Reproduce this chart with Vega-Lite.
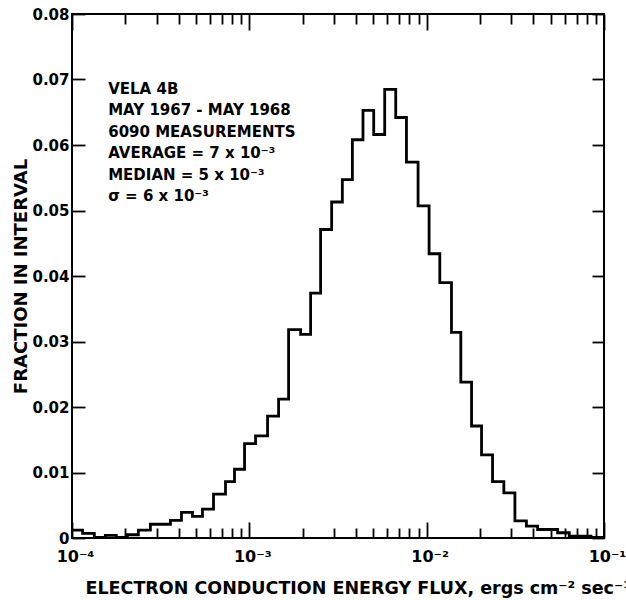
{
  "$schema": "https://vega.github.io/schema/vega-lite/v6.json",
  "width": 532,
  "height": 524,
  "autosize": {"type": "none"},
  "padding": {"left": 72, "top": 14, "right": 22, "bottom": 62},
  "background": "white",
  "config": {
    "view": {"stroke": "black", "strokeWidth": 2},
    "axis": {"domain": false, "grid": false, "tickColor": "black", "tickWidth": 1.8, "labelColor": "black", "titleColor": "black", "labelFont": "DejaVu Sans", "labelFontWeight": "bold", "titleFont": "DejaVu Sans", "titleFontWeight": "bold", "labelFlush": false, "labelOverlap": false}
  },
  "datasets": {
    "hist": [
      {"flux": 0.0001, "frac": 0.0012},
      {"flux": 0.0001148, "frac": 0.0007},
      {"flux": 0.0001336, "frac": 0.0001},
      {"flux": 0.0001542, "frac": 0.0004},
      {"flux": 0.0001778, "frac": 0.0001},
      {"flux": 0.0002052, "frac": 0.0005},
      {"flux": 0.0002368, "frac": 0.0012},
      {"flux": 0.0002767, "frac": 0.0021},
      {"flux": 0.0003152, "frac": 0.0021},
      {"flux": 0.0003591, "frac": 0.0027},
      {"flux": 0.0004142, "frac": 0.0039},
      {"flux": 0.0004779, "frac": 0.0033},
      {"flux": 0.0005441, "frac": 0.0044},
      {"flux": 0.0006281, "frac": 0.0067},
      {"flux": 0.0007339, "frac": 0.0086},
      {"flux": 0.0008249, "frac": 0.0105},
      {"flux": 0.0009396, "frac": 0.0144},
      {"flux": 0.001084, "frac": 0.0156},
      {"flux": 0.001267, "frac": 0.0186},
      {"flux": 0.001462, "frac": 0.0212},
      {"flux": 0.001665, "frac": 0.0318},
      {"flux": 0.001946, "frac": 0.0311},
      {"flux": 0.002216, "frac": 0.0374},
      {"flux": 0.002523, "frac": 0.0471},
      {"flux": 0.002912, "frac": 0.0513},
      {"flux": 0.003346, "frac": 0.0547},
      {"flux": 0.003811, "frac": 0.0608},
      {"flux": 0.004375, "frac": 0.0653},
      {"flux": 0.005028, "frac": 0.0616},
      {"flux": 0.005799, "frac": 0.0685},
      {"flux": 0.006692, "frac": 0.0642},
      {"flux": 0.007691, "frac": 0.0574},
      {"flux": 0.008944, "frac": 0.0507},
      {"flux": 0.01032, "frac": 0.0434},
      {"flux": 0.01186, "frac": 0.0390},
      {"flux": 0.01380, "frac": 0.0314},
      {"flux": 0.01558, "frac": 0.0238},
      {"flux": 0.01791, "frac": 0.0171},
      {"flux": 0.02039, "frac": 0.0127},
      {"flux": 0.02352, "frac": 0.0086},
      {"flux": 0.02724, "frac": 0.0069},
      {"flux": 0.03145, "frac": 0.0026},
      {"flux": 0.03651, "frac": 0.0018},
      {"flux": 0.04223, "frac": 0.0013},
      {"flux": 0.04830, "frac": 0.0013},
      {"flux": 0.05478, "frac": 0.0008},
      {"flux": 0.06370, "frac": 0.0003},
      {"flux": 0.07318, "frac": 0.0003},
      {"flux": 0.08446, "frac": 0.0001},
      {"flux": 0.1, "frac": 0.0001}
    ]
  },
  "resolve": {"axis": {"x": "independent", "y": "independent"}},
  "layer": [
    {
      "data": {"name": "hist"},
      "mark": {"type": "line", "interpolate": "step-after", "color": "black", "strokeWidth": 2.8, "strokeJoin": "miter"},
      "encoding": {
        "x": {
          "field": "flux", "type": "quantitative",
          "scale": {"type": "log", "domain": [0.0001, 0.1], "nice": false},
          "axis": {"orient": "bottom", "values": [0.0001, 0.001, 0.01, 0.1], "tickSize": -16, "labelPadding": 26, "labelBaseline": "top", "labelFontSize": 16, "labelOffset": 3,
            "labelExpr": "['10⁻⁴','10⁻³','10⁻²','10⁻¹'][round(log(datum.value)/LN10)+4]",
            "title": "ELECTRON CONDUCTION ENERGY FLUX, ergs cm⁻² sec⁻¹", "titleFontSize": 17.5, "titleAlign": "left", "titleAnchor": "start", "titleX": 13, "titleY": 55, "titleBaseline": "alphabetic"}
        },
        "y": {
          "field": "frac", "type": "quantitative",
          "scale": {"domain": [0, 0.08], "nice": false},
          "axis": {"orient": "left", "values": [0, 0.01, 0.02, 0.03, 0.04, 0.05, 0.06, 0.07, 0.08], "tickSize": -13, "labelPadding": 16, "labelFontSize": 15,
            "labelExpr": "datum.value == 0 ? '0' : format(datum.value, '.2f')",
            "title": "FRACTION IN INTERVAL", "titleFontSize": 18, "titleAngle": 270, "titleX": -46, "titleY": 262, "titleAlign": "center", "titleBaseline": "alphabetic"}
        }
      }
    },
    {
      "data": {"name": "hist"},
      "mark": {"type": "line", "opacity": 0},
      "encoding": {
        "x": {"field": "flux", "type": "quantitative", "scale": {"type": "log", "domain": [0.0001, 0.1], "nice": false},
          "axis": {"orient": "top", "values": [0.0001, 0.001, 0.01, 0.1], "tickSize": -16, "labels": false, "title": null}},
        "y": {"field": "frac", "type": "quantitative", "scale": {"domain": [0, 0.08], "nice": false},
          "axis": {"orient": "right", "values": [0, 0.01, 0.02, 0.03, 0.04, 0.05, 0.06, 0.07, 0.08], "tickSize": -12, "labels": false, "title": null}}
      }
    },
    {
      "data": {"name": "hist"},
      "mark": {"type": "line", "opacity": 0},
      "encoding": {
        "x": {"field": "flux", "type": "quantitative", "scale": {"type": "log", "domain": [0.0001, 0.1], "nice": false},
          "axis": {"orient": "bottom", "values": [0.0002, 0.0003, 0.0004, 0.0005, 0.0006, 0.0007, 0.0008, 0.0009, 0.002, 0.003, 0.004, 0.005, 0.006, 0.007, 0.008, 0.009, 0.02, 0.03, 0.04, 0.05, 0.06, 0.07, 0.08, 0.09], "tickSize": -10, "labels": false, "title": null}},
        "y": {"field": "frac", "type": "quantitative", "scale": {"domain": [0, 0.08], "nice": false}, "axis": null}
      }
    },
    {
      "data": {"name": "hist"},
      "mark": {"type": "line", "opacity": 0},
      "encoding": {
        "x": {"field": "flux", "type": "quantitative", "scale": {"type": "log", "domain": [0.0001, 0.1], "nice": false},
          "axis": {"orient": "top", "values": [0.0002, 0.0003, 0.0004, 0.0005, 0.0006, 0.0007, 0.0008, 0.0009, 0.002, 0.003, 0.004, 0.005, 0.006, 0.007, 0.008, 0.009, 0.02, 0.03, 0.04, 0.05, 0.06, 0.07, 0.08, 0.09], "tickSize": -10, "labels": false, "title": null}},
        "y": {"field": "frac", "type": "quantitative", "scale": {"domain": [0, 0.08], "nice": false}, "axis": null}
      }
    },
    {
      "data": {"values": [{}]},
      "mark": {"type": "text", "align": "left", "baseline": "alphabetic", "font": "DejaVu Sans", "fontWeight": "bold", "fontSize": 15, "lineHeight": 21.5, "color": "black"},
      "encoding": {
        "x": {"datum": 0.00016, "type": "quantitative", "scale": {"type": "log", "domain": [0.0001, 0.1], "nice": false}, "axis": null},
        "y": {"datum": 0.0678, "type": "quantitative", "scale": {"domain": [0, 0.08], "nice": false}, "axis": null},
        "text": {"value": ["VELA 4B", "MAY 1967 - MAY 1968", "6090 MEASUREMENTS", "AVERAGE = 7 x 10⁻³", "MEDIAN = 5 x 10⁻³", "σ = 6 x 10⁻³"]}
      }
    }
  ]
}
